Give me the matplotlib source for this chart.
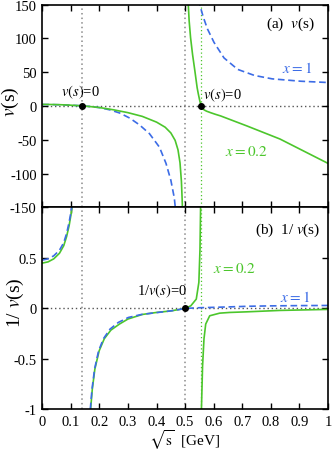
import numpy as np
import matplotlib.pyplot as plt

plt.rcParams['font.family'] = ['Liberation Serif', 'DejaVu Serif']
plt.rcParams['mathtext.fontset'] = 'stix'

# ---- panel (a): v(s) ----
# x = 1 (blue, dashed), branch left of the pole and right of it
xa_b1 = [0, 0.03, 0.06, 0.09, 0.12, 0.14, 0.17, 0.2, 0.236, 0.271, 0.306, 0.34,
         0.375, 0.41, 0.433, 0.45, 0.462, 0.468]
va_b1 = [2.1, 2.0, 1.7, 1.2, 0.6, 0, -1.0, -2.5, -5.8, -10.5, -18, -28,
         -41, -61, -85, -110, -136, -160]
xa_b2 = [0.548, 0.551, 0.563, 0.578, 0.601, 0.636, 0.684, 0.743, 0.805, 0.905, 1.0]
va_b2 = [158, 150, 132, 114, 94, 71, 54, 45, 40, 36.5, 34.6]

# x = 0.2 (green, solid)
xa_g1 = [0, 0.03, 0.06, 0.09, 0.12, 0.14, 0.17, 0.2, 0.25, 0.3, 0.35, 0.4, 0.43,
         0.45, 0.465, 0.475, 0.482, 0.487, 0.4895, 0.4915]
va_g1 = [2.2, 2.1, 1.8, 1.3, 0.6, 0, -1.1, -2.4, -5.8, -10, -15.5, -24, -31.5,
         -40, -51, -65, -84, -112, -138, -165]
xa_g2 = [0.509, 0.511, 0.514, 0.519, 0.526, 0.534, 0.542, 0.546, 0.55, 0.553,
         0.556, 0.559, 0.563, 0.568, 0.575, 0.589, 0.605, 0.624, 0.716, 0.832, 1.0]
va_g2 = [165, 150, 126, 101, 76, 52, 27, 18, 10, 4.5, 0, -2.8, -4.8, -6.3, -7.8,
         -10, -12.3, -14.8, -29.6, -49, -85]

# ---- panel (b): 1/v(s) ----
xb_b1 = [0, 0.02, 0.04, 0.06, 0.075, 0.085, 0.093, 0.099, 0.104, 0.108]
wb_b1 = [0.478, 0.49, 0.52, 0.575, 0.65, 0.74, 0.84, 0.93, 1.02, 1.12]
xb_b2 = [0.165, 0.168, 0.174, 0.183, 0.197, 0.214, 0.237, 0.266, 0.301, 0.347,
         0.405, 0.463, 0.5, 0.551, 0.601, 0.65, 0.72, 0.8, 0.9, 1.0]
wb_b2 = [-1.1, -1.0, -0.80, -0.60, -0.42, -0.30, -0.205, -0.139, -0.09, -0.06,
         -0.04, -0.02, 0, 0.0067, 0.0105, 0.0145, 0.021, 0.025, 0.0275, 0.029]

xb_g1 = [0, 0.02, 0.04, 0.06, 0.075, 0.085, 0.094, 0.1, 0.105, 0.109]
wb_g1 = [0.448, 0.46, 0.49, 0.545, 0.62, 0.71, 0.82, 0.92, 1.02, 1.12]
xb_g2 = [0.166, 0.169, 0.175, 0.184, 0.199, 0.217, 0.24, 0.27, 0.30, 0.35, 0.40,
         0.45, 0.48, 0.5, 0.52, 0.539, 0.548, 0.552, 0.554, 0.555]
wb_g2 = [-1.1, -1.0, -0.80, -0.60, -0.42, -0.30, -0.215, -0.155, -0.105, -0.06,
         -0.04, -0.025, -0.01, 0, 0.026, 0.092, 0.257, 0.587, 0.98, 1.2]
xb_g3 = [0.5565, 0.557, 0.561, 0.566, 0.572, 0.586, 0.621, 0.656, 0.716, 0.832, 1.0]
wb_g3 = [-1.2, -1.0, -0.57, -0.30, -0.155, -0.073, -0.047, -0.04, -0.034, -0.02, -0.01]

# special points
zeros_a = [0.14, 0.556]
zero_b = 0.5
vlines_grey = [0.14, 0.5]
vline_green = 0.556

xticks = np.arange(0, 1.01, 0.1)
xticklabels = ['0', '0.1', '0.2', '0.3', '0.4', '0.5', '0.6', '0.7', '0.8', '0.9', '1']
yticks_a = [-150, -100, -50, 0, 50, 100, 150]
yticklabels_a = ['-150', '-100', '-50', '0', '50', '100', '150']
yticks_b = [-1, -0.5, 0, 0.5, 1]
yticklabels_b = ['-1', '-0.5', '0', '0.5', '']

blue = '#3c6ce6'
green = '#4cc62c'
grey = '#8a8a8a'
dash = (0, (4, 2.2))

fig = plt.figure(figsize=(3.32, 4.56), dpi=100)
ax1 = fig.add_axes([0.1274, 0.5432, 0.8605, 0.4447])
ax2 = fig.add_axes([0.1274, 0.0998, 0.8605, 0.4434])

for ax in (ax1, ax2):
    for xv in vlines_grey:
        ax.axvline(xv, color=grey, ls=(0, (1, 2)), lw=1.1, zorder=1)
    ax.axvline(vline_green, color=green, ls=(0, (1, 2)), lw=0.9, zorder=1)
    ax.axhline(0, color='#555555', ls=(0, (1, 2)), lw=1.0, zorder=1)

ax1.plot(xa_b1, va_b1, color=blue, ls=dash, lw=1.2)
ax1.plot(xa_b2, va_b2, color=blue, ls=dash, lw=1.2)
ax1.plot(xa_g1, va_g1, color=green, lw=1.2)
ax1.plot(xa_g2, va_g2, color=green, lw=1.2)
ax1.plot(zeros_a, [0, 0], 'o', color='k', ms=4, zorder=5)

ax2.plot(xb_g1, wb_g1, color=green, lw=1.2)
ax2.plot(xb_g2, wb_g2, color=green, lw=1.2)
ax2.plot(xb_g3, wb_g3, color=green, lw=1.2)
ax2.plot(xb_b1, wb_b1, color=blue, ls=dash, lw=1.2)
ax2.plot(xb_b2, wb_b2, color=blue, ls=dash, lw=1.2)
ax2.plot([zero_b], [0], 'o', color='k', ms=4, zorder=5)

ax1.set_xlim(0, 1)
ax1.set_ylim(-150, 150)
ax2.set_xlim(0, 1)
ax2.set_ylim(-1, 1)

for ax in (ax1, ax2):
    ax.set_xticks(xticks)
    ax.tick_params(direction='in', top=True, right=True, length=4, width=1,
                   labelsize=10.5, pad=4)
    for sp in ax.spines.values():
        sp.set_linewidth(1.2)
ax1.set_xticklabels([])
ax2.set_xticklabels(xticklabels)
ax1.set_yticks(yticks_a)
ax1.set_yticklabels(yticklabels_a)
ax2.set_yticks(yticks_b)
ax2.set_yticklabels(yticklabels_b)

ax1.text(0.868, 122, r'(a)  $v$(s)', ha='center', va='center', fontsize=11)
ax1.text(0.89, 57, r'$x = 1$', color=blue, ha='center', va='center', fontsize=11)
ax1.text(0.716, -66, r'$x = 0.2$', color=green, ha='center', va='center', fontsize=11)
ax1.text(0.134, 22, r'$v(s)$=0', ha='center', va='center', fontsize=10.5)
ax1.text(0.632, 17, r'$v(s)$=0', ha='center', va='center', fontsize=10.5)

ax2.text(0.858, 0.785, r'(b)  1/ $v$(s)', ha='center', va='center', fontsize=11)
ax2.text(0.672, 0.396, r'$x = 0.2$', color=green, ha='center', va='center', fontsize=11)
ax2.text(0.884, 0.115, r'$x = 1$', color=blue, ha='center', va='center', fontsize=11)
ax2.text(0.418, 0.174, r'1/$v(s)$=0', ha='center', va='center', fontsize=10.5)

fig.text(10 / 332, 1 - 102 / 456, r'$v$(s)', rotation=90, ha='center', va='center',
         fontsize=14)
fig.text(15 / 332, 1 - 303 / 456, r'1/ $v$(s)', rotation=90, ha='center', va='center',
         fontsize=14)
fig.text(185 / 332, 1 - 440 / 456, r'$\sqrt{\mathrm{s}}$  [GeV]', ha='center',
         va='center', fontsize=11)

fig.savefig('out.png', dpi=100)
